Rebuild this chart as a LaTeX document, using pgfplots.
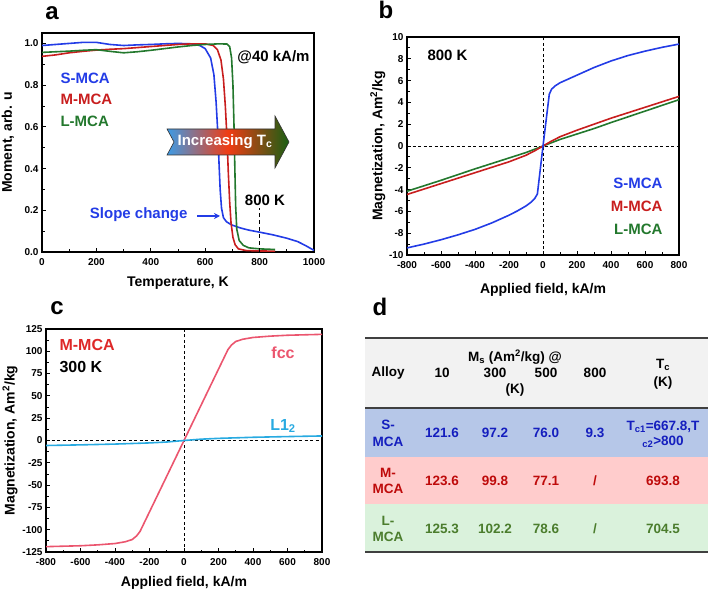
\documentclass[border=0pt]{standalone}
\usepackage{fontspec}
\setmainfont{Liberation Sans}
\usepackage{pgfplots}
\pgfplotsset{compat=1.18}
\usetikzlibrary{arrows.meta}

\definecolor{cblue}{RGB}{35,60,230}
\definecolor{cred}{RGB}{200,30,30}
\definecolor{cgreen}{RGB}{35,120,45}
\definecolor{cfcc}{RGB}{235,85,110}
\definecolor{clone}{RGB}{40,170,225}
\definecolor{cmred}{RGB}{222,40,40}
\definecolor{arrblue}{RGB}{60,155,230}
\definecolor{arrred}{RGB}{240,60,20}
\definecolor{arrgreen}{RGB}{25,95,20}
\definecolor{hdr}{RGB}{242,242,242}
\definecolor{srow}{RGB}{182,199,232}
\definecolor{mrow}{RGB}{255,204,204}
\definecolor{lrow}{RGB}{218,242,220}
\definecolor{stxt}{RGB}{20,30,190}
\definecolor{mtxt}{RGB}{190,10,10}
\definecolor{ltxt}{RGB}{75,125,45}

\newcommand{\fs}[1]{\fontsize{#1}{#1}\selectfont\bfseries}

\pgfplotsset{
  panel/.style={
    scale only axis, anchor=south west,
    axis line style={line width=1.1pt},
    tick align=inside, tick pos=left,
    major tick length=4pt, minor tick length=2.5pt,
    every tick/.style={black, line width=0.8pt},
    minor x tick num=1, minor y tick num=1,
    /pgf/number format/assume math mode=true,
    /pgf/number format/1000 sep={},
    tick label style={font=\fs{10}},
    xticklabel style={yshift=-3pt},
    label style={font=\fs{14}},
    every axis plot/.append style={line width=1.6pt},
  },
  guide/.style={black, line width=0.7pt, dash pattern=on 3pt off 2.5pt},
}

\begin{document}
\begin{tikzpicture}
\path[use as bounding box] (0pt,0pt) rectangle (708pt,591pt);

% ---------- panel a ----------
\begin{axis}[panel, at={(42pt,339pt)}, width=272pt, height=219pt,
  xmin=0, xmax=1000, ymin=0, ymax=1.05,
  xtick={0,200,...,1000}, ytick={0,0.2,...,1.0},
  yticklabel style={/pgf/number format/.cd, fixed, fixed zerofill, precision=1},
  xlabel={Temperature, K}, ylabel={Moment, arb. u},
  xlabel style={at={(axis description cs:0.5,-0.142)}, anchor=center},
  ylabel style={at={(axis description cs:-0.125,0.5)}, anchor=center},
]
\addplot[cblue] coordinates {(0,0.99)(50,0.995)(100,1.0)(150,1.005)(200,1.005)(250,0.995)(300,0.99)(350,0.993)(400,0.995)(450,0.998)(500,1.0)(550,0.998)(580,0.99)(600,0.975)(620,0.93)(632,0.85)(640,0.72)(646,0.58)(651,0.42)(655,0.3)(660,0.21)(667,0.165)(678,0.145)(697,0.13)(730,0.115)(760,0.105)(800,0.095)(850,0.082)(900,0.066)(940,0.05)(970,0.03)(1000,0.008)};
\addplot[cred] coordinates {(0,0.938)(50,0.945)(100,0.955)(150,0.962)(200,0.968)(250,0.972)(300,0.975)(350,0.98)(400,0.985)(450,0.99)(500,0.995)(550,0.998)(600,0.998)(630,0.99)(645,0.97)(658,0.92)(667,0.83)(674,0.7)(680,0.55)(685,0.38)(690,0.24)(695,0.14)(702,0.07)(710,0.035)(722,0.015)(750,0.007)(800,0.005)(857,0.004)};
\addplot[cgreen] coordinates {(0,0.957)(50,0.96)(100,0.963)(150,0.967)(200,0.97)(250,0.962)(300,0.955)(350,0.96)(400,0.967)(450,0.975)(500,0.983)(550,0.99)(600,0.995)(650,0.998)(680,0.997)(690,0.985)(697,0.93)(702,0.8)(706,0.6)(709,0.4)(712,0.22)(716,0.11)(725,0.055)(740,0.032)(760,0.02)(800,0.015)(857,0.012)};
\addplot[black, line width=1.5pt, dash pattern=on 4pt off 3pt] coordinates {(800,0)(800,0.21)};
\end{axis}

\node[font=\fs{15}] at (273.5pt,534pt) {@40 kA/m};
\node[font=\fs{15}, cblue, anchor=west] at (57pt,513pt) {S-MCA};
\node[font=\fs{15}, cred, anchor=west] at (57pt,492pt) {M-MCA};
\node[font=\fs{15}, cgreen, anchor=west] at (57pt,470pt) {L-MCA};
\node[font=\fs{15}, cblue, anchor=east] at (191pt,376pt) {Slope change};
\draw[cblue, line width=1.4pt, -{Stealth[length=6pt,width=6pt]}] (197pt,375pt) -- (220pt,375pt);
\node[font=\fs{15}] at (265pt,391pt) {800 K};
\shadedraw[left color=arrblue, right color=arrgreen, middle color=arrred, draw=black!80, line width=0.6pt]
  (167pt,462pt) -- (275pt,462pt) -- (275pt,475pt) -- (289pt,449pt) -- (275pt,423pt) -- (275pt,436pt) -- (167pt,436pt) -- (174pt,449pt) -- cycle;
\node[white, font=\fs{15}] at (225pt,449pt) {Increasing T\textsubscript{c}};

% ---------- panel b ----------
\begin{axis}[panel, at={(407pt,336pt)}, width=272pt, height=218pt,
  xmin=-800, xmax=800, ymin=-10, ymax=10,
  xtick={-800,-600,...,800}, ytick={-10,-8,...,10},
  xlabel={Applied field, kA/m}, ylabel={Magnetization, Am\textsuperscript{2}/kg},
  xlabel style={at={(axis description cs:0.5,-0.16)}, anchor=center},
  ylabel style={at={(axis description cs:-0.107,0.5)}, anchor=center},
]
\addplot[guide] coordinates {(0,-10)(0,10)};
\addplot[guide] coordinates {(-800,0)(800,0)};
\addplot[cgreen] coordinates {(-800,-4.15)(-600,-3.15)(-400,-2.1)(-300,-1.6)(-200,-1.1)(-100,-0.6)(0,0)(100,0.6)(200,1.1)(300,1.6)(400,2.15)(600,3.2)(800,4.25)};
\addplot[cred] coordinates {(-800,-4.45)(-700,-3.95)(-600,-3.45)(-500,-2.95)(-400,-2.45)(-300,-1.95)(-200,-1.45)(-100,-0.85)(-50,-0.45)(0,0)(50,0.45)(100,0.85)(200,1.45)(300,2.0)(400,2.55)(500,3.05)(600,3.55)(700,4.05)(800,4.55)};
\addplot[cblue] coordinates {(-800,-9.35)(-700,-9.0)(-600,-8.6)(-500,-8.15)(-400,-7.65)(-300,-7.05)(-200,-6.35)(-150,-5.95)(-100,-5.5)(-70,-5.15)(-50,-4.85)(-33,-4.4)(0,0)(37,4.75)(50,5.2)(70,5.5)(100,5.8)(150,6.15)(200,6.5)(300,7.2)(400,7.8)(500,8.3)(600,8.7)(700,9.05)(800,9.35)};
\end{axis}

\node[font=\fs{15}, anchor=west] at (424pt,536pt) {800 K};
\node[font=\fs{15}, cblue, anchor=east] at (666pt,408pt) {S-MCA};
\node[font=\fs{15}, cred, anchor=east] at (666pt,385pt) {M-MCA};
\node[font=\fs{15}, cgreen, anchor=east] at (666pt,362pt) {L-MCA};

% ---------- panel c ----------
\begin{axis}[panel, at={(46pt,39pt)}, width=276pt, height=223pt,
  xmin=-800, xmax=800, ymin=-125, ymax=125,
  xtick={-800,-600,...,800}, ytick={-125,-100,...,125},
  xlabel={Applied field, kA/m}, ylabel={Magnetization, Am\textsuperscript{2}/kg},
  xlabel style={at={(axis description cs:0.5,-0.139)}, anchor=center},
  ylabel style={at={(axis description cs:-0.13,0.5)}, anchor=center},
]
\addplot[guide] coordinates {(0,-125)(0,125)};
\addplot[guide] coordinates {(-800,0)(800,0)};
\addplot[cfcc] coordinates {(-800,-119)(-700,-118.5)(-600,-118)(-500,-117)(-400,-115.5)(-340,-113.5)(-300,-111)(-275,-107)(-255,-102)(-240,-96)(-200,-80)(-100,-40)(0,0)(100,40)(200,80)(240,96)(255,102)(275,107)(300,111)(340,113.5)(400,115.5)(500,117)(600,118)(700,118.5)(800,119)};
\addplot[clone] coordinates {(-800,-5.6)(-600,-4.9)(-400,-4)(-200,-2.7)(-100,-1.7)(0,0)(100,1.5)(200,2.4)(400,3.6)(600,4.4)(800,5.1)};
\end{axis}

\node[font=\fs{16}, cmred, anchor=west] at (56pt,246pt) {M-MCA};
\node[font=\fs{16}, anchor=west] at (56pt,224pt) {300 K};
\node[font=\fs{16}, cfcc] at (283pt,238pt) {fcc};
\node[font=\fs{16}, clone] at (283pt,165pt) {L1\textsubscript{2}};

% ---------- panel d (table) ----------
\fill[hdr] (365pt,183pt) rectangle (708pt,253pt);
\fill[srow] (365pt,134pt) rectangle (708pt,183pt);
\fill[mrow] (365pt,87pt) rectangle (708pt,134pt);
\fill[lrow] (365pt,39pt) rectangle (708pt,87pt);
\draw[black!75, line width=1.3pt] (365pt,253pt) -- (708pt,253pt);
\draw[black!75, line width=1.1pt] (365pt,183pt) -- (708pt,183pt);
\draw[black!75, line width=1.3pt] (365pt,39pt) -- (708pt,39pt);

\begin{scope}[every node/.style={font=\fs{13.5}}]
\node at (515pt,234pt) {M\textsubscript{s} (Am\textsuperscript{2}/kg) @};
\node at (388pt,218pt) {Alloy};
\node at (442pt,218pt) {10};
\node at (495pt,218pt) {300};
\node at (546pt,218pt) {500};
\node at (595pt,218pt) {800};
\node at (515pt,201pt) {(K)};
\node at (663pt,226pt) {T\textsubscript{c}};
\node at (663pt,208pt) {(K)};

\node[stxt] at (388pt,166pt) {S-};
\node[stxt] at (388pt,149pt) {MCA};
\node[stxt] at (442pt,158pt) {121.6};
\node[stxt] at (495pt,158pt) {97.2};
\node[stxt] at (546pt,158pt) {76.0};
\node[stxt] at (595pt,158pt) {9.3};
\node[stxt] at (663pt,164pt) {T\textsubscript{c1}=667.8,T};
\node[stxt] at (663pt,149pt) {\textsubscript{c2}>800};

\node[mtxt] at (388pt,118pt) {M-};
\node[mtxt] at (388pt,102pt) {MCA};
\node[mtxt] at (442pt,110pt) {123.6};
\node[mtxt] at (495pt,110pt) {99.8};
\node[mtxt] at (546pt,110pt) {77.1};
\node[mtxt] at (595pt,110pt) {/};
\node[mtxt] at (663pt,110pt) {693.8};

\node[ltxt] at (388pt,70pt) {L-};
\node[ltxt] at (388pt,54pt) {MCA};
\node[ltxt] at (442pt,62pt) {125.3};
\node[ltxt] at (495pt,62pt) {102.2};
\node[ltxt] at (546pt,62pt) {78.6};
\node[ltxt] at (595pt,62pt) {/};
\node[ltxt] at (663pt,62pt) {704.5};
\end{scope}

% ---------- panel letters ----------
\begin{scope}[every node/.style={font=\fs{24}}]
\node at (52pt,578pt) {a};
\node at (386pt,581pt) {b};
\node at (57pt,283pt) {c};
\node at (380pt,284pt) {d};
\end{scope}
\end{tikzpicture}
\end{document}
